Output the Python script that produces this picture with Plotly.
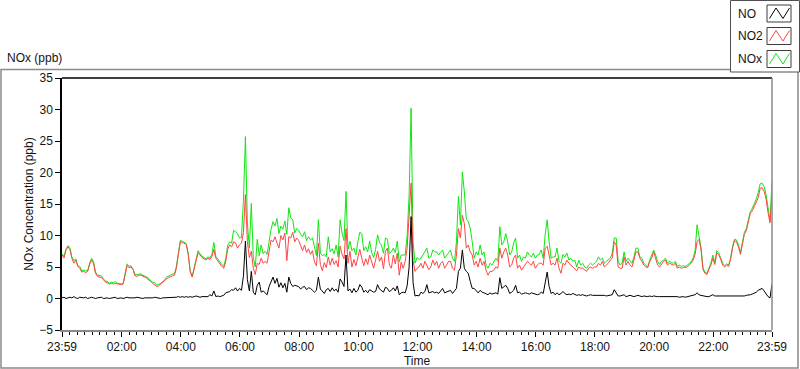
import pandas as pd
import plotly.graph_objects as go

# ---- data: 4-minute samples from 23:59 (previous day) to 23:59 ----
start_time = "2014-01-01 23:59"
end_time = "2014-01-02 23:59"
sample_step = "4min"

no2 = [
    6.9,6.4,7.7,8.2,7.8,6.4,5.6,6.1,5.1,4.8,
    4.2,4.3,4.1,4.3,5.4,6.1,5.6,4.0,3.5,3.4,
    3.3,3.0,2.6,2.5,2.3,2.4,2.3,2.4,2.3,2.2,
    2.2,2.3,4.0,5.2,4.9,5.0,4.6,3.6,3.5,3.7,
    3.7,3.6,3.4,3.2,3.0,2.7,2.4,2.2,1.9,2.0,
    2.3,2.5,2.8,3.1,3.3,3.5,3.6,3.7,4.8,7.0,
    9.0,8.9,8.8,8.6,7.0,4.3,3.4,4.6,6.0,7.3,
    6.9,6.5,6.3,6.1,6.4,6.2,6.6,7.8,6.4,5.9,
    5.4,5.1,4.8,5.8,7.8,8.5,8.2,9.0,8.8,8.0,
    8.5,8.8,10.5,16.5,9.0,6.5,7.5,4.8,3.8,5.6,
    5.4,6.4,5.6,5.9,5.6,7.2,9.3,9.0,9.8,8.8,
    8.0,10.0,9.3,10.4,6.0,9.8,9.6,10.5,9.0,9.6,
    9.2,
    8.4,7.6,8.5,7.3,7.9,7.0,7.6,5.8,5.2,8.8,
    5.4,4.4,5.7,4.9,6.6,5.3,6.4,5.4,6.0,5.0,
    8.3,7.0,6.3,11.1,5.6,7.5,5.0,6.2,5.2,6.8,
    7.8,6.4,5.2,6.3,5.4,6.9,5.6,4.8,6.1,7.5,
    5.9,6.6,4.7,7.5,8.0,5.3,4.8,6.9,5.5,7.2,
    3.7,5.8,4.8,5.9,8.0,14.0,18.3,6.0,4.3,4.8,
    5.0,
    5.6,4.8,5.9,5.3,4.6,5.0,6.1,5.3,5.9,4.8,
    5.6,5.9,4.8,5.3,5.9,5.9,4.8,4.5,6.9,11.1,
    9.6,13.2,11.9,8.0,8.5,7.4,6.9,5.3,5.9,5.0,
    6.4,5.3,5.9,4.5,3.7,4.3,4.3,4.5,5.0,4.8,
    8.0,6.4,7.4,8.0,6.9,5.0,5.3,6.4,6.9,4.8,
    5.3,4.5,5.0,5.3,5.9,5.6,5.3,5.9,4.8,5.3,
    5.6,
    5.6,5.3,8.0,8.3,6.9,5.3,5.6,5.3,6.4,4.8,
    4.0,5.6,5.3,6.1,5.6,5.3,5.0,4.8,4.4,5.0,
    4.8,4.8,4.5,4.3,4.8,5.0,4.8,5.0,5.0,5.6,
    5.3,5.9,5.0,5.3,5.6,6.1,6.4,9.0,8.5,5.0,
    4.8,4.8,6.6,5.3,5.9,5.3,5.0,6.1,7.4,7.4,
    6.4,5.9,5.3,5.0,4.9,5.9,6.4,7.4,6.4,5.3,
    5.0,
    5.4,5.9,6.1,5.3,5.6,5.5,5.3,5.6,4.8,5.0,
    4.8,4.9,4.9,5.0,5.3,5.6,6.1,7.0,9.0,9.4,
    7.8,4.6,4.0,3.8,4.6,5.3,6.4,5.4,7.2,7.0,
    6.2,5.3,5.0,5.3,5.1,6.2,8.0,9.2,9.0,8.2,
    7.0,8.6,10.2,10.8,12.0,13.5,13.9,14.6,15.3,16.0,
    17.5,17.6,17.0,15.8,13.6,12.0,16.4,
]

no = [
    0.1,0.2,0.0,0.1,0.2,0.1,0.3,0.1,0.0,0.2,
    0.1,0.1,0.2,0.0,0.1,0.2,0.1,0.0,0.1,0.1,
    0.2,0.0,0.1,0.1,0.0,0.1,0.1,0.2,0.0,0.1,
    0.1,0.0,0.1,0.2,0.1,0.1,0.0,0.1,0.2,0.1,
    0.1,0.0,0.1,0.1,0.1,0.0,0.1,0.2,0.1,0.1,
    0.0,0.1,0.1,0.2,0.1,0.1,0.2,0.1,0.2,0.3,
    0.2,0.3,0.2,0.3,0.2,0.3,0.2,0.3,0.4,0.3,
    0.2,0.3,0.3,0.4,0.3,0.6,0.4,1.2,0.3,0.4,
    0.3,0.4,0.5,0.9,1.0,1.1,1.4,1.3,1.7,1.2,
    1.6,1.3,3.6,9.1,3.0,1.2,4.3,1.0,0.6,2.1,
    2.6,1.0,1.2,0.9,0.6,1.9,2.6,3.4,2.4,3.2,
    1.8,2.5,1.7,2.4,1.0,3.4,2.4,1.9,2.1,2.0,
    1.9,
    1.5,1.8,1.9,1.4,1.7,1.6,1.3,1.0,1.3,3.4,
    1.5,1.2,0.8,1.4,1.6,1.1,1.7,1.2,1.5,1.0,
    3.1,2.6,1.9,6.9,1.2,1.5,0.9,1.6,1.0,1.3,
    2.2,1.8,1.0,1.3,0.9,1.4,1.2,1.0,1.1,2.2,
    1.5,1.2,1.0,1.8,1.6,1.1,1.3,1.7,1.2,2.0,
    0.6,0.9,1.0,0.9,2.0,5.0,13.0,2.5,0.4,0.5,
    0.4,
    1.0,0.8,1.1,2.2,0.9,1.0,1.1,0.9,1.0,0.8,
    1.3,1.6,0.9,1.0,1.1,1.3,0.8,1.2,1.6,4.3,
    4.8,7.7,4.8,4.3,4.0,2.7,1.6,1.6,1.2,0.9,
    1.3,1.0,0.9,0.8,0.6,0.9,0.7,0.8,0.9,0.7,
    3.3,1.6,1.9,2.1,1.6,0.8,1.0,1.3,2.1,0.9,
    1.0,0.7,0.8,0.9,0.8,0.7,0.9,0.8,0.7,0.6,
    0.7,
    1.0,0.8,2.4,4.2,1.9,0.8,1.0,0.6,0.9,0.6,
    0.8,1.1,0.8,0.6,0.7,0.6,0.8,0.6,0.5,0.6,
    0.5,0.6,0.5,0.4,0.5,0.6,0.5,0.5,0.6,0.5,
    0.6,0.5,0.5,0.4,0.5,0.5,0.6,1.4,0.8,0.4,
    0.4,0.5,0.6,0.3,0.4,0.5,0.4,0.3,0.4,0.5,
    0.4,0.3,0.4,0.3,0.3,0.4,0.3,0.4,0.3,0.3,
    0.3,
    0.3,0.4,0.3,0.3,0.4,0.3,0.3,0.4,0.3,0.2,
    0.3,0.3,0.2,0.3,0.3,0.4,0.5,0.6,0.9,0.6,
    0.5,0.4,0.4,0.3,0.3,0.4,0.6,0.4,0.4,0.3,
    0.3,0.3,0.3,0.3,0.3,0.3,0.3,0.3,0.4,0.3,
    0.3,0.4,0.4,0.5,0.5,0.6,0.7,0.8,1.0,1.3,
    1.5,1.6,1.2,0.7,0.3,0.1,2.3,
]

nox = [
    7.1,6.7,7.8,8.4,8.1,6.6,6.0,6.3,5.2,5.1,
    4.4,4.5,4.4,4.4,5.6,6.4,5.8,4.2,3.7,3.6,
    3.6,3.1,2.8,2.7,2.4,2.6,2.5,2.7,2.4,2.4,
    2.3,2.4,4.2,5.5,5.1,5.2,4.7,3.8,3.8,3.9,
    3.9,3.7,3.6,3.4,3.2,2.8,2.6,2.5,2.1,2.2,
    2.4,2.7,2.9,3.4,3.5,3.7,3.9,3.9,5.1,7.3,
    9.2,9.1,8.9,8.7,7.1,4.4,3.5,4.8,6.2,7.6,
    7.1,6.7,6.5,6.3,6.6,6.4,7.0,8.9,6.7,6.2,
    5.7,5.4,5.1,6.3,8.4,9.0,8.8,10.8,10.6,10.3,
    9.6,9.7,15.6,25.7,12.0,8.0,15.1,6.5,5.0,9.4,
    6.8,8.5,7.1,7.5,7.0,9.0,11.0,12.2,11.5,12.7,
    10.3,11.5,11.0,12.3,10.2,14.4,12.8,12.5,10.4,11.1,
    10.8,
    10.2,9.8,10.6,9.2,9.8,9.3,9.6,7.9,6.8,12.5,
    7.2,6.8,7.0,6.6,9.8,7.4,7.9,7.1,8.5,6.6,
    12.5,10.4,9.2,17.0,7.8,9.1,7.6,8.0,6.9,9.0,
    10.5,10.3,7.6,8.2,7.4,9.1,7.3,6.5,7.8,10.1,
    8.9,8.4,7.2,9.6,9.4,7.1,7.4,8.0,7.3,9.1,
    5.8,6.9,6.9,6.9,10.0,16.4,30.2,9.0,5.6,6.5,
    6.2,
    6.4,6.9,7.4,8.0,6.4,6.6,7.7,7.4,7.4,6.9,
    7.4,7.7,6.4,6.9,7.4,7.7,6.4,5.9,9.0,16.2,
    11.7,20.1,16.9,12.6,12.2,11.1,9.0,6.4,7.4,6.9,
    8.5,6.9,7.4,5.3,4.8,5.6,5.3,5.9,6.4,5.9,
    11.4,8.5,9.0,10.3,9.0,6.9,7.4,8.8,9.6,6.4,
    6.9,5.9,6.6,6.4,7.4,6.9,6.6,7.2,6.4,6.9,
    7.0,
    7.7,6.4,10.2,12.5,9.0,6.4,6.6,6.6,8.0,5.9,
    5.6,7.0,6.6,7.2,6.1,6.4,5.9,6.1,5.0,6.1,
    5.3,5.6,5.0,4.8,5.3,5.6,5.3,5.6,5.9,6.6,
    6.1,6.4,5.6,5.9,6.1,6.4,7.2,9.6,9.6,5.9,
    5.3,5.6,7.4,5.9,6.4,5.9,5.6,6.6,8.0,8.0,
    6.6,6.4,5.6,5.3,5.0,6.1,6.9,7.7,6.9,5.9,
    5.4,
    5.9,6.1,6.4,5.6,5.9,5.7,5.6,5.9,5.1,5.3,
    5.1,5.2,5.1,5.3,5.6,5.8,6.4,7.6,11.7,10.0,
    8.1,4.8,4.2,4.0,4.9,5.6,6.9,5.7,7.6,7.2,
    6.4,5.6,5.2,5.5,5.3,6.4,8.3,9.4,9.3,8.5,
    7.3,8.9,10.5,11.1,12.3,13.8,14.3,15.0,15.8,16.8,
    18.2,18.3,17.8,16.5,14.0,12.3,18.6,
]

tick_vals = ["2014-01-01 23:59", "2014-01-02 02:00", "2014-01-02 04:00",
             "2014-01-02 06:00", "2014-01-02 08:00", "2014-01-02 10:00",
             "2014-01-02 12:00", "2014-01-02 14:00", "2014-01-02 16:00",
             "2014-01-02 18:00", "2014-01-02 20:00", "2014-01-02 22:00",
             "2014-01-02 23:59"]
tick_text = ["23:59", "02:00", "04:00", "06:00", "08:00", "10:00", "12:00",
             "14:00", "16:00", "18:00", "20:00", "22:00", "23:59"]

series_names = ["NO", "NO2", "NOx"]
series_colors = ["#000000", "#ff4545", "#11e611"]

assert len(no2) == len(no) == len(nox), (len(no2), len(no), len(nox))
times = pd.date_range(start_time, periods=len(no2), freq=sample_step)

FONT = "Liberation Sans, Arial, sans-serif"
TXT = "#141414"

fig = go.Figure()
fig.add_trace(go.Scatter(x=times, y=nox, mode="lines", name="NOx",
                         line=dict(color=series_colors[2], width=1)))
fig.add_trace(go.Scatter(x=times, y=no2, mode="lines", name="NO2",
                         line=dict(color=series_colors[1], width=1)))
fig.add_trace(go.Scatter(x=times, y=no, mode="lines", name="NO",
                         line=dict(color=series_colors[0], width=1)))

# pixel -> paper helpers for the decorative frame (plot area px 62..772, 78..330)
L, R, T, B = 62, 772, 78, 330
def px(x):
    return (x - L) / (R - L)
def py(y):
    return (B - y) / (B - T)

shapes = []
# outer panel frame
shapes.append(dict(type="rect", xref="paper", yref="paper",
                   x0=px(1), x1=px(798), y0=py(368), y1=py(69.5),
                   line=dict(color="#8a8a8a", width=1.5), layer="below"))
# plot frame: top black, right gray
shapes.append(dict(type="line", xref="paper", yref="paper", x0=0, x1=1, y0=1, y1=1,
                   line=dict(color="#000000", width=1.5)))
shapes.append(dict(type="line", xref="paper", yref="paper", x0=1, x1=1, y0=0, y1=1,
                   line=dict(color="#8a8a8a", width=1.5)))
# legend box
shapes.append(dict(type="rect", xref="paper", yref="paper",
                   x0=px(730.5), x1=px(799.5), y0=py(72), y1=py(0.5),
                   line=dict(color="#505050", width=1), fillcolor="white"))
annotations = []
legend_rows = [13.5, 36, 59]
for name, color, cy in zip(series_names, series_colors, legend_rows):
    shapes.append(dict(type="rect", xref="paper", yref="paper",
                       x0=px(767), x1=px(791), y0=py(cy + 8.5), y1=py(cy - 8.5),
                       line=dict(color="#3c3c3c", width=1), fillcolor="white"))
    pts = [(769.5, cy + 5), (776, cy - 5.5), (783, cy + 5), (789.5, cy - 5.5)]
    path = "M " + " L ".join(f"{px(a):.5f},{py(b):.5f}" for a, b in pts)
    shapes.append(dict(type="path", xref="paper", yref="paper", path=path,
                       line=dict(color=color, width=1)))
    annotations.append(dict(xref="paper", yref="paper", x=px(736), y=py(cy),
                            xanchor="left", yanchor="middle", text=name, showarrow=False,
                            font=dict(family=FONT, size=12, color=TXT)))

annotations.append(dict(xref="paper", yref="paper", x=px(5), y=py(58),
                        xanchor="left", yanchor="middle", text="NOx (ppb)", showarrow=False,
                        font=dict(family=FONT, size=12, color=TXT)))

fig.update_layout(
    width=800, height=369,
    margin=dict(l=L, r=800 - R, t=T, b=369 - B, autoexpand=False),
    paper_bgcolor="white", plot_bgcolor="white",
    showlegend=False,
    font=dict(family=FONT, size=11, color=TXT),
    shapes=shapes, annotations=annotations,
    xaxis=dict(
        type="date", range=[start_time, end_time],
        tickmode="array", tickvals=tick_vals, ticktext=tick_text,
        ticks="outside", ticklen=5, tickwidth=1, tickcolor="#000000",
        minor=dict(ticks="outside", ticklen=3, tickwidth=1, tickcolor="#000000",
                   dtick=15 * 60 * 1000, tick0="2014-01-02 00:00"),
        showgrid=False, zeroline=False,
        showline=True, linecolor="#8a8a8a", linewidth=1.5,
        tickfont=dict(family=FONT, size=12, color=TXT),
        title=dict(text="Time", font=dict(family=FONT, size=12, color=TXT), standoff=2),
    ),
    yaxis=dict(
        range=[-5, 35], tickmode="linear", tick0=0, dtick=5,
        ticks="outside", ticklen=5, tickwidth=1, tickcolor="#000000",
        showgrid=False, zeroline=False,
        showline=True, linecolor="#000000", linewidth=1.5,
        tickfont=dict(family=FONT, size=12, color=TXT),
        title=dict(text="NOx Concentration (ppb)",
                   font=dict(family=FONT, size=12, color=TXT), standoff=3),
    ),
)

fig.write_html(
    "out.html",
    config={"displayModeBar": False},
    post_script="document.body.style.margin='0px';document.body.style.overflow='hidden';",
)
